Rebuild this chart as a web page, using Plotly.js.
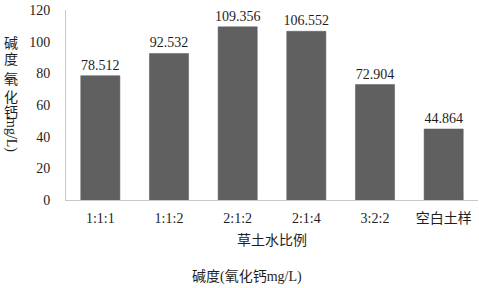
<!DOCTYPE html>
<html>
<head>
<meta charset="utf-8">
<script src="https://cdn.plot.ly/plotly-3.0.1.min.js"></script>
<style>
  html, body { margin: 0; padding: 0; background: #fff; }
  #chart { width: 479px; height: 288px; }
</style>
</head>
<body>
<div id="chart"></div>
<script>
var ratios = ['1:1:1', '1:1:2', '2:1:2', '2:1:4', '3:2:2', '空白土样'];
var alkalinity = [78.512, 92.532, 109.356, 106.552, 72.904, 44.864];
var labels = ['78.512', '92.532', '109.356', '106.552', '72.904', '44.864'];
var yTicks = [0, 20, 40, 60, 80, 100, 120];

// vertical y title pieces: [text, paper y, rotation]
var yTitleParts = [
    ['碱', 0.826, 0],
    ['度', 0.737, 0],
    ['︵', 0.66, 0],
    ['氧', 0.632, 0],
    ['化', 0.542, 0],
    ['钙', 0.458, 0],
    ['mg/L)', 0.342, 90]
];

var fontFamily = '"Liberation Serif", "Times New Roman", "Noto Sans CJK SC", serif';
var txt = { family: fontFamily, size: 14, color: '#1e1e1e' };

var bars = {
    x: ratios,
    y: alkalinity,
    text: labels,
    type: 'bar',
    name: '碱度(氧化钙mg/L)',
    textposition: 'outside',
    constraintext: 'none',
    cliponaxis: false,
    textfont: txt,
    marker: { color: '#606060', line: { color: '#5a5a5a', width: 0.5 } },
    hoverinfo: 'skip'
};

var annotations = [
    { xref: 'paper', yref: 'paper', x: 0.44, y: -0.405, xanchor: 'center', yanchor: 'middle',
      text: '碱度(氧化钙mg/L)', showarrow: false, font: txt }
];
yTitleParts.forEach(function (p) {
    annotations.push({
        xref: 'paper', yref: 'paper', x: -0.1335, y: p[1],
        xanchor: 'center', yanchor: 'middle',
        text: p[0], textangle: p[2], showarrow: false, font: txt
    });
});

var layout = {
    width: 479,
    height: 288,
    margin: { l: 66, r: 1, t: 10, b: 88 },
    paper_bgcolor: '#fff',
    plot_bgcolor: '#fff',
    showlegend: false,
    bargap: 0.43,
    font: txt,
    xaxis: {
        type: 'category',
        showline: true,
        linecolor: '#c8c8c8',
        linewidth: 1,
        showgrid: false,
        ticks: 'outside',
        ticklen: 5,
        tickcolor: 'rgba(0,0,0,0)',
        tickfont: txt,
        title: { text: '草土水比例', font: txt, standoff: 10 }
    },
    yaxis: {
        range: [0, 120],
        tickvals: yTicks,
        showline: true,
        linecolor: '#c8c8c8',
        linewidth: 1,
        showgrid: false,
        zeroline: false,
        ticks: 'outside',
        ticklen: 12,
        tickcolor: 'rgba(0,0,0,0)',
        tickfont: txt
    },
    annotations: annotations
};

Plotly.newPlot('chart', [bars], layout, { displayModeBar: false, staticPlot: true });
</script>
</body>
</html>
